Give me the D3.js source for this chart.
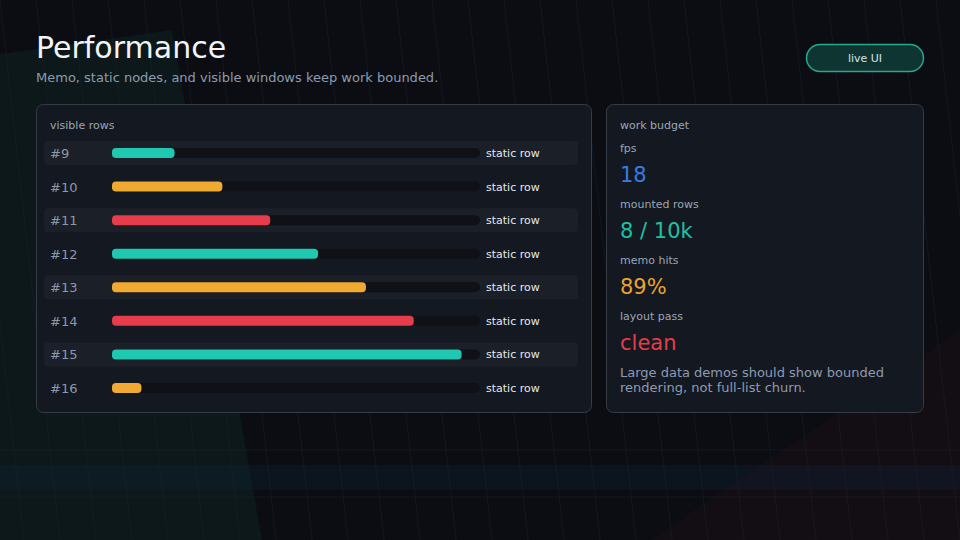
<html>
<head>
    <script src="https://d3js.org/d3.v7.min.js"></script>
    <style>
        body { margin: 0; background: #0b0d12; }
        svg text { font-family: "DejaVu Sans", sans-serif; }
    </style>
</head>
<body>
    <svg id="plot"></svg>
    <script>
        var rowLabels = ["#9", "#10", "#11", "#12", "#13", "#14", "#15", "#16"];
        var rowValues = [17, 30, 43, 56, 69, 82, 95, 8];
        var rowNotes = ["static row", "static row", "static row", "static row",
                        "static row", "static row", "static row", "static row"];
        var metricNames = ["fps", "mounted rows", "memo hits", "layout pass"];
        var metricValues = ["18", "8 / 10k", "89%", "clean"];
        var palette = ["#1fc8b0", "#f0aa32", "#e63c4c"];
        var metricColors = ["#3a7be0", "#1fc0a4", "#e8a432", "#e63c4c"];

        var W = 960, H = 540;
        var svg = d3.select("#plot").attr("width", W).attr("height", H);

        // background
        svg.append("rect").attr("width", W).attr("height", H).attr("fill", "#0b0d12");
        svg.append("polygon").attr("points", "0,54 172,30 262,540 0,540").attr("fill", "#0c1819");
        svg.append("polygon").attr("points", "960,330 960,540 650,540").attr("fill", "#130e14");
        svg.append("rect").attr("x", 0).attr("y", 465).attr("width", W).attr("height", 25)
            .attr("fill", "#12233a").attr("opacity", 0.3);
        [450, 497].forEach(function(y){
            svg.append("line").attr("x1", 0).attr("x2", W).attr("y1", y).attr("y2", y)
                .attr("stroke", "#1c2a36").attr("stroke-width", 1).attr("opacity", 0.4);
        });
        var grid = svg.append("g").attr("stroke", "#1a2230").attr("stroke-width", 1).attr("opacity", 0.5);
        d3.range(-4, 30).forEach(function(i){
            var x0 = i * 36;
            grid.append("line").attr("x1", x0).attr("y1", 0).attr("x2", x0 + 60).attr("y2", H);
        });

        // header
        svg.append("text").attr("x", 36).attr("y", 58).attr("font-size", 30)
            .attr("fill", "#f2f4f7").text("Performance");
        svg.append("text").attr("x", 36).attr("y", 82).attr("font-size", 13)
            .attr("fill", "#8d9bb0").text("Memo, static nodes, and visible windows keep work bounded.");

        svg.append("rect").attr("x", 806.5).attr("y", 44.5).attr("width", 117).attr("height", 27)
            .attr("rx", 13.5).attr("fill", "#0f3532").attr("stroke", "#25a88e").attr("stroke-width", 1.5);
        svg.append("text").attr("x", 865).attr("y", 62).attr("text-anchor", "middle")
            .attr("font-size", 11).attr("fill", "#d6e2e6").text("live UI");

        // left panel
        svg.append("rect").attr("x", 36.5).attr("y", 104.5).attr("width", 555).attr("height", 308)
            .attr("rx", 7).attr("fill", "#141820").attr("stroke", "#363c46").attr("stroke-width", 1);
        svg.append("text").attr("x", 50).attr("y", 129).attr("font-size", 11)
            .attr("fill", "#9aa6b6").text("visible rows");

        var y = d3.scalePoint().domain(rowLabels).range([153, 388]);
        var x = d3.scaleLinear().domain([0, 100]).range([112, 480]);

        var rows = svg.append("g").selectAll("g").data(rowLabels).enter().append("g")
            .attr("transform", function(d){ return "translate(0," + y(d) + ")"; });

        rows.filter(function(d, i){ return i % 2 === 0; }).append("rect")
            .attr("x", 44).attr("y", -12).attr("width", 534).attr("height", 24).attr("rx", 4)
            .attr("fill", "#1a1f28");
        rows.append("text").attr("x", 50).attr("y", 5).attr("font-size", 13)
            .attr("fill", "#8d99ab").text(function(d){ return d; });
        rows.append("rect").attr("x", x(0)).attr("y", -5).attr("width", x(100) - x(0)).attr("height", 10)
            .attr("rx", 5).attr("fill", "#0f1116");
        rows.append("rect").attr("x", x(0)).attr("y", -5)
            .attr("width", function(d, i){ return x(rowValues[i]) - x(0); }).attr("height", 10)
            .attr("rx", 4).attr("fill", function(d, i){ return palette[i % 3]; });
        rows.append("text").attr("x", 486).attr("y", 4).attr("font-size", 11)
            .attr("fill", "#e4e8ee").text(function(d, i){ return rowNotes[i]; });

        // right panel
        svg.append("rect").attr("x", 606.5).attr("y", 104.5).attr("width", 317).attr("height", 308)
            .attr("rx", 7).attr("fill", "#141820").attr("stroke", "#363c46").attr("stroke-width", 1);
        svg.append("text").attr("x", 620).attr("y", 129).attr("font-size", 11)
            .attr("fill", "#9aa6b6").text("work budget");

        var m = svg.append("g").selectAll("g").data(metricNames).enter().append("g")
            .attr("transform", function(d, i){ return "translate(620," + (152 + i * 56) + ")"; });
        m.append("text").attr("y", 0).attr("font-size", 11).attr("fill", "#9aa6b6").text(function(d){ return d; });
        m.append("text").attr("y", 30).attr("font-size", 21)
            .attr("fill", function(d, i){ return metricColors[i]; })
            .text(function(d, i){ return metricValues[i]; });

        svg.append("text").attr("x", 620).attr("y", 377).attr("font-size", 13).attr("fill", "#8d9bb0")
            .text("Large data demos should show bounded");
        svg.append("text").attr("x", 620).attr("y", 392).attr("font-size", 13).attr("fill", "#8d9bb0")
            .text("rendering, not full-list churn.");
    </script>
</body>
</html>
